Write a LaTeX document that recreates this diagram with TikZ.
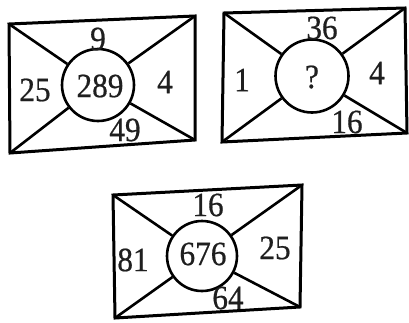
\documentclass[tikz,border=0pt]{standalone}
\usepackage{fontspec}
\setmainfont{Liberation Serif}
\newfontfamily\numfont[FakeBold=0.6]{Liberation Serif}
\begin{document}
\begin{tikzpicture}[x=1pt,y=-1pt,
  frame/.style={line width=3pt,line join=miter},
  diag/.style={line width=2.6pt},
  ring/.style={circle,draw,line width=2.6pt,fill=white,inner sep=0pt},
  num/.style={font=\numfont\fontsize{34}{34}\selectfont,inner sep=0pt,text=black!88,xscale=0.92}]
\useasboundingbox (0,0) rectangle (409,322);
% panel 1
\coordinate (a1) at (9,24);\coordinate (b1) at (195,16);
\coordinate (c1) at (195,140);\coordinate (d1) at (10,153);
\node[ring,minimum size=72pt] (o1) at (98,85) {};
\draw[diag] (a1) -- (o1) (c1) -- (o1) (b1) -- (o1) (d1) -- (o1);
\draw[frame] (a1) -- (b1) -- (c1) -- (d1) -- cycle;
\node[num] (t1) at (100,86) {289};
\node[num] (n1) at (98,39) {9};
\node[num] (w1) at (35,90) {25};
\node[num] (e1) at (165,82) {4};
\node[num] (s1) at (125,130) {49};
% panel 2
\coordinate (a2) at (224,13);\coordinate (b2) at (405,8);
\coordinate (c2) at (407,133);\coordinate (d2) at (222,142);
\node[ring,minimum size=73pt] (o2) at (312,76) {};
\draw[diag] (a2) -- (o2) (c2) -- (o2) (b2) -- (o2) (d2) -- (o2);
\draw[frame] (a2) -- (b2) -- (c2) -- (d2) -- cycle;
\node[num] (t2) at (312,77) {?};
\node[num] (n2) at (322,28) {36};
\node[num] (w2) at (242,80) {1};
\node[num] (e2) at (377,73) {4};
\node[num] (s2) at (347,122) {16};
% panel 3
\coordinate (a3) at (113,195);\coordinate (b3) at (302,185);
\coordinate (c3) at (300,307);\coordinate (d3) at (115,318);
\node[ring,minimum size=70pt] (o3) at (202,256) {};
\draw[diag] (a3) -- (o3) (c3) -- (o3) (b3) -- (o3) (d3) -- (o3);
\draw[frame] (a3) -- (b3) -- (c3) -- (d3) -- cycle;
\node[num] (t3) at (203,254) {676};
\node[num] (n3) at (208,205) {16};
\node[num] (w3) at (133,260) {81};
\node[num] (e3) at (275,248) {25};
\node[num] (s3) at (228,298) {64};
\end{tikzpicture}
\end{document}
